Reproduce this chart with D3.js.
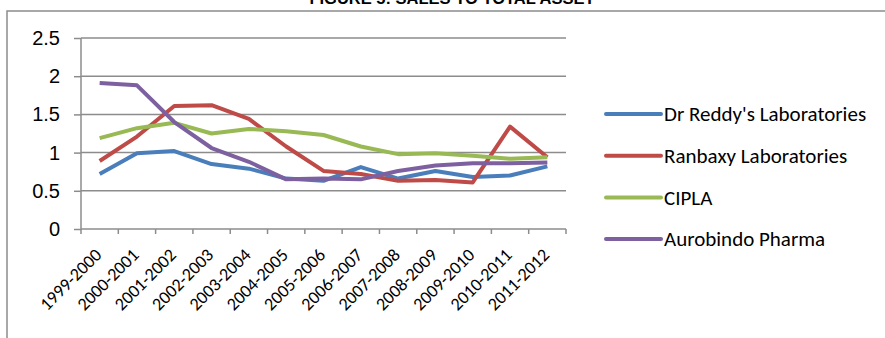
<!DOCTYPE html>
<html>
<head>
<meta charset="utf-8">
<script src="https://cdn.jsdelivr.net/npm/d3@7"></script>
<style>
  html, body { margin: 0; padding: 0; background: #fff; }
  svg { display: block; font-family: Carlito, Calibri, Lato, sans-serif; }
</style>
</head>
<body>
<div id="chart"></div>
<script>
const years = ["1999-2000", "2000-2001", "2001-2002", "2002-2003", "2003-2004", "2004-2005",
  "2005-2006", "2006-2007", "2007-2008", "2008-2009", "2009-2010", "2010-2011", "2011-2012"];
const drReddy = [0.72, 0.99, 1.02, 0.85, 0.79, 0.66, 0.63, 0.81, 0.66, 0.76, 0.68, 0.70, 0.82];
const ranbaxy = [0.89, 1.21, 1.61, 1.62, 1.44, 1.08, 0.76, 0.72, 0.63, 0.64, 0.61, 1.34, 0.94];
const cipla = [1.19, 1.32, 1.39, 1.25, 1.31, 1.28, 1.23, 1.08, 0.98, 0.99, 0.96, 0.92, 0.94];
const aurobindo = [1.91, 1.88, 1.40, 1.06, 0.88, 0.65, 0.66, 0.65, 0.76, 0.83, 0.86, 0.86, 0.87];
const yTicks = [0, 0.5, 1, 1.5, 2, 2.5];

const series = [
  { name: "Dr Reddy's Laboratories", values: drReddy, color: "#4a7ebb" },
  { name: "Ranbaxy Laboratories", values: ranbaxy, color: "#be4b48" },
  { name: "CIPLA", values: cipla, color: "#98b954" },
  { name: "Aurobindo Pharma", values: aurobindo, color: "#7d60a0" }
];

const W = 885, H = 338;
const svg = d3.select("#chart").append("svg").attr("width", W).attr("height", H);

// outer frame (runs off right and bottom edge)
svg.append("rect").attr("x", 7).attr("y", 11).attr("width", 900).attr("height", 400)
  .attr("fill", "none").attr("stroke", "#8c8c8c").attr("stroke-width", 1.5);

// title is clipped by the top edge, as in the source image
svg.append("text").attr("x", 452).attr("y", 4).attr("text-anchor", "middle")
  .attr("font-family", "Liberation Sans, Arial, sans-serif")
  .attr("font-weight", "bold").attr("font-size", 16.5).text("FIGURE 5: SALES TO TOTAL ASSET");

const x = d3.scaleBand().domain(years).range([81, 566]);
const y = d3.scaleLinear().domain([0, 2.5]).range([229, 38]);

// gridlines
svg.append("g").selectAll("line").data(yTicks.filter(d => d > 0)).enter().append("line")
  .attr("x1", 81).attr("x2", 566).attr("y1", d => y(d)).attr("y2", d => y(d))
  .attr("stroke", "#8c8c8c").attr("stroke-width", 1.5);

// y axis
const yAxis = svg.append("g").attr("transform", "translate(81,0)")
  .call(d3.axisLeft(y).tickValues(yTicks).tickSize(7).tickPadding(14).tickFormat(d3.format("")));
yAxis.selectAll("line, path").attr("stroke", "#8c8c8c").attr("stroke-width", 1.5);
yAxis.select(".domain").attr("d", `M0,${y(0)}V${y(2.5)}`);
yAxis.selectAll("text").attr("font-family", null).attr("font-size", 20).attr("fill", "#000");

// x axis: ticks on band edges
const xEdges = years.map(d => x(d)).concat([x.range()[1]]);
svg.append("line").attr("x1", 81).attr("x2", 566).attr("y1", y(0)).attr("y2", y(0))
  .attr("stroke", "#8c8c8c").attr("stroke-width", 1.5);
svg.append("g").selectAll("line").data(xEdges).enter().append("line")
  .attr("x1", d => d).attr("x2", d => d).attr("y1", y(0)).attr("y2", y(0) + 5)
  .attr("stroke", "#8c8c8c").attr("stroke-width", 1.5);
svg.append("g").selectAll("text").data(years).enter().append("text")
  .attr("transform", d => `translate(${x(d) + x.bandwidth() / 2 + 3},256) rotate(-45)`)
  .attr("text-anchor", "end").attr("font-size", 18).text(d => d);

// lines
const line = d3.line().x((d, i) => x(years[i]) + x.bandwidth() / 2).y(d => y(d));
svg.append("g").selectAll("path").data(series).enter().append("path")
  .attr("d", d => line(d.values)).attr("fill", "none")
  .attr("stroke", d => d.color).attr("stroke-width", 4).attr("stroke-linejoin", "round");

// legend
const leg = svg.append("g").selectAll("g").data(series).enter().append("g")
  .attr("transform", (d, i) => `translate(606,${114 + i * 41.7})`);
leg.append("line").attr("x1", 0).attr("x2", 55).attr("stroke", d => d.color)
  .attr("stroke-width", 4).attr("stroke-linecap", "round");
leg.append("text").attr("x", 58).attr("dy", "0.35em").attr("font-size", 21).text(d => d.name);
</script>
</body>
</html>
